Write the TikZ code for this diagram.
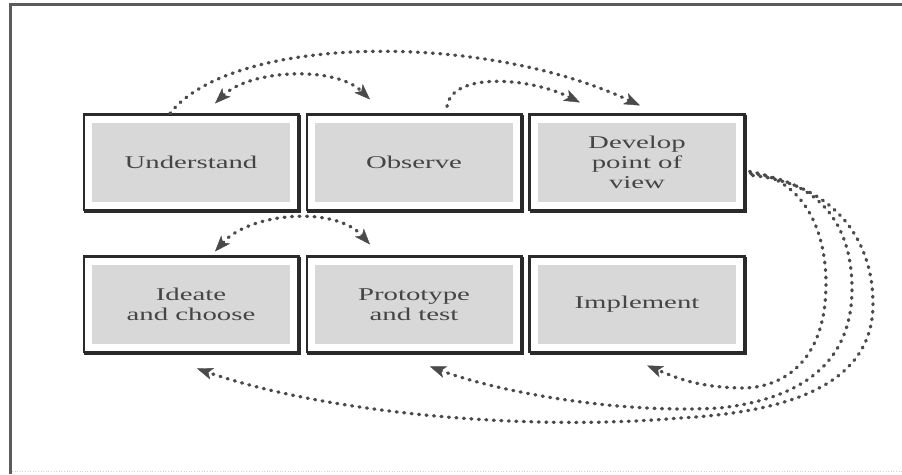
\documentclass[tikz,border=0pt]{standalone}
\usepackage{fontspec}
\setmainfont{Liberation Serif}[FakeStretch=1.6]
\usetikzlibrary{
arrows.meta
}
\definecolor{boxline}{HTML}{2A2A2A}
\definecolor{boxfill}{HTML}{D8D8D8}
\definecolor{boxtext}{HTML}{454545}
\definecolor{dotgray}{HTML}{4A4A4A}
\definecolor{framegray}{HTML}{5C5C5C}
\tikzset{>={Stealth[length=16pt,width=12pt,inset=4pt,line width=0.4pt]}}
\tikzset{
stagebox/.style={fill=boxfill, draw=white, line width=7pt,
  preaction={draw=boxline, line width=12pt, transform canvas={shift={(1.2pt,-1.2pt)}}},
  preaction={draw=boxline, line width=12pt},
  minimum width=205pt, minimum height=86pt, inner sep=0pt, outer sep=0pt,
  align=center, text=boxtext, font=\fontsize{18}{20}\selectfont},
flowdots/.style={draw=dotgray, line width=3.3pt, line cap=round, dash pattern=on 1pt off 6.5pt}
}

\begin{document}
\begin{tikzpicture}[x=1pt, y=1pt]
	\useasboundingbox (0,0) rectangle (902,474);
	% frame
	\draw[line width=3pt, framegray] (10,0) -- (10,469) -- (902,469);
	\draw[line width=0.6pt, gray!35, dotted] (12,3) -- (902,3);
	% the six stages
	\matrix (m) at (414,240.5) [column sep={223pt,between origins}, row sep={142pt,between origins}, nodes={stagebox}, ampersand replacement=\&]
	{
		\node (understand) {Understand}; \& \node (observe) {Observe}; \& \node (develop) {Develop\\point of\\view}; \\
		\node (ideate) {Ideate\\and choose}; \& \node (prototype) {Prototype\\and test}; \& \node (implement) {Implement}; \\
	};
	% arcs over the boxes
	\draw[flowdots,<->] ([xshift=24pt,yshift=16pt]understand.north) .. controls +(35,34) and +(-35,34) .. ([xshift=-44pt,yshift=20pt]observe.north);
	\draw[flowdots,->] ([xshift=-21pt,yshift=6pt]understand.north) .. controls +(60,78) and +(-160,75) .. ([xshift=3pt,yshift=14pt]develop.north);
	\draw[flowdots,->] ([xshift=33pt,yshift=13pt]observe.north) .. controls +(5,35) and +(-50,25) .. ([xshift=-57pt,yshift=17pt]develop.north);
	\draw[flowdots,<->] ([xshift=24pt,yshift=10pt]ideate.north) .. controls +(35,39) and +(-35,39) .. ([xshift=-44pt,yshift=17pt]prototype.north);
	% loops back from the point of view
	\draw[flowdots,->] ([xshift=10pt,yshift=-9pt]develop.east) .. controls +(50,-7) and +(0,60) .. (826,190)
		.. controls +(0,-80) and +(40,-1) .. (740,86) .. controls +(-40,1) and +(33,-14) .. ([xshift=10pt,yshift=-18pt]implement.south);
	\draw[flowdots,->] ([xshift=11pt,yshift=-11pt]develop.east) .. controls +(58,-6) and +(0,75) .. (852,185)
		.. controls +(0,-75) and +(80,9) .. (720,66) .. controls +(-100,-6) and +(70,-26) .. ([xshift=16pt,yshift=-19pt]prototype.south);
	\draw[flowdots,->] ([xshift=13pt,yshift=-13pt]develop.east) .. controls +(76,-8) and +(0,70) .. (873,170)
		.. controls +(0,-80) and +(110,6) .. (680,56) .. controls +(-160,-14) and +(123,-43) .. ([xshift=6pt,yshift=-21pt]ideate.south);
\end{tikzpicture}
\end{document}
